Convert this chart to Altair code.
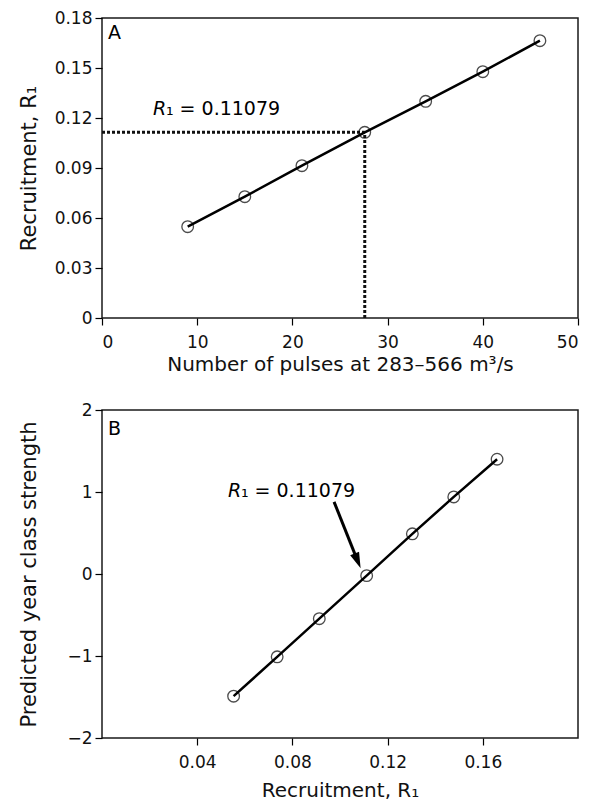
import altair as alt
import pandas as pd

# ---------------- data ----------------
# Panel A: recruitment vs number of pulses
pulses = [9, 15, 21, 27.6, 34, 40, 46]
recruit_a = [0.0548, 0.0728, 0.0914, 0.1114, 0.1300, 0.1478, 0.1664]
r1_pulses = 27.6
r1_value = 0.1114

# Panel B: predicted year class strength vs recruitment
recruit_b = [0.0553, 0.0736, 0.0913, 0.1112, 0.1304, 0.1478, 0.1660]
strength_b = [-1.49, -1.01, -0.545, -0.02, 0.49, 0.94, 1.40]

a_ticks_x = [0, 10, 20, 30, 40, 50]
a_ticks_y = [0, 0.03, 0.06, 0.09, 0.12, 0.15, 0.18]
b_ticks_x = [0.04, 0.08, 0.12, 0.16]
b_ticks_y = [-2, -1, 0, 1, 2]

label_value = "0.11079"
# annotation anchors (data units)
a_label_pos = [5.35, 0.1218]
b_label_pos = [0.0529, 0.939]
b_arrow_start = [0.0975, 0.88]
b_arrow_head = [0.1074, 0.16]

FONT = "DejaVu Sans"

A_XT = "Number of pulses at 283–566 m³/s"
A_YT = "Recruitment, R₁"
B_XT = "Recruitment, R₁"
B_YT = "Predicted year class strength"

# ---------------- shared encodings ----------------
ax_a_x = alt.Axis(values=a_ticks_x, format="d", title=A_XT, titlePadding=4)
ax_a_y = alt.Axis(values=a_ticks_y,
                  labelExpr="datum.value == 0 ? '0' : format(datum.value, '.2f')",
                  title=A_YT, titleFontSize=21, titlePadding=16,
                  minExtent=47, maxExtent=47)
sc_a_x = alt.Scale(domain=[0, 50], nice=False, zero=False)
sc_a_y = alt.Scale(domain=[0, 0.18], nice=False, zero=False)

ax_b_x = alt.Axis(values=b_ticks_x, format=".2f", title=B_XT, titlePadding=10)
ax_b_y = alt.Axis(values=b_ticks_y, format="d",
                  title=B_YT, titleFontSize=21, titlePadding=16,
                  minExtent=47, maxExtent=47)
sc_b_x = alt.Scale(domain=[0, 0.2], nice=False, zero=False)
sc_b_y = alt.Scale(domain=[-2, 2], nice=False, zero=False)


def AX(f):
    return alt.X(f, type="quantitative", scale=sc_a_x, axis=ax_a_x, title=A_XT)


def AY(f):
    return alt.Y(f, type="quantitative", scale=sc_a_y, axis=ax_a_y, title=A_YT)


def BX(f):
    return alt.X(f, type="quantitative", scale=sc_b_x, axis=ax_b_x, title=B_XT)


def BY(f):
    return alt.Y(f, type="quantitative", scale=sc_b_y, axis=ax_b_y, title=B_YT)


# ---------------- panel A ----------------
dfa = pd.DataFrame({"px": pulses, "ry": recruit_a})
a_line = alt.Chart(dfa).mark_line(color="black", strokeWidth=2.5).encode(x=AX("px"), y=AY("ry"))
a_pts = alt.Chart(dfa).mark_point(shape="circle", size=135, color="black", filled=False,
                                  strokeWidth=1.3).encode(x=AX("px"), y=AY("ry"))

dh = pd.DataFrame({"px": [0], "px2": [r1_pulses], "ry": [r1_value]})
a_hdash = alt.Chart(dh).mark_rule(color="#111", strokeWidth=3, strokeDash=[3, 2]).encode(
    x=AX("px"), x2=alt.X2("px2", title=A_XT), y=AY("ry"))
dv = pd.DataFrame({"px": [r1_pulses], "ry": [0], "ry2": [r1_value]})
a_vdash = alt.Chart(dv).mark_rule(color="#111", strokeWidth=3, strokeDash=[3, 2]).encode(
    x=AX("px"), y=AY("ry"), y2=alt.Y2("ry2", title=A_YT))

dta = pd.DataFrame({"px": [a_label_pos[0]], "ry": [a_label_pos[1]],
                    "r": ["R"], "rest": ["₁ = " + label_value]})
a_t1 = alt.Chart(dta).mark_text(font=FONT, fontSize=19, fontStyle="italic", align="left",
                                baseline="alphabetic", color="black").encode(
    x=AX("px"), y=AY("ry"), text="r:N")
a_t2 = alt.Chart(dta).mark_text(font=FONT, fontSize=19, align="left", dx=13,
                                baseline="alphabetic", color="black").encode(
    x=AX("px"), y=AY("ry"), text="rest:N")
a_lab = alt.Chart(pd.DataFrame({"t": ["A"]})).mark_text(
    font=FONT, fontSize=19, align="left", baseline="alphabetic", color="black").encode(
    x=alt.value(6), y=alt.value(21), text="t:N")

panel_a = alt.layer(a_hdash, a_vdash, a_line, a_pts, a_t1, a_t2, a_lab).properties(width=476, height=300)

# ---------------- panel B ----------------
dfb = pd.DataFrame({"bx": recruit_b, "by": strength_b})
b_line = alt.Chart(dfb).mark_line(color="black", strokeWidth=2.5).encode(x=BX("bx"), y=BY("by"))
b_pts = alt.Chart(dfb).mark_point(shape="circle", size=135, color="black", filled=False,
                                  strokeWidth=1.3).encode(x=BX("bx"), y=BY("by"))

dar = pd.DataFrame({"bx": [b_arrow_start[0]], "by": [b_arrow_start[1]],
                    "bx2": [b_arrow_head[0]], "by2": [b_arrow_head[1]]})
b_shaft = alt.Chart(dar).mark_rule(color="black", strokeWidth=3).encode(
    x=BX("bx"), y=BY("by"), x2=alt.X2("bx2", title=B_XT), y2=alt.Y2("by2", title=B_YT))
dhead = pd.DataFrame({"bx": [b_arrow_head[0]], "by": [b_arrow_head[1]]})
b_head = alt.Chart(dhead).mark_point(shape="M-0.6,-1L0.6,-1L0,1Z", size=256, filled=True,
                                     color="black", opacity=1, angle=338).encode(
    x=BX("bx"), y=BY("by"))

dtb = pd.DataFrame({"bx": [b_label_pos[0]], "by": [b_label_pos[1]],
                    "r": ["R"], "rest": ["₁ = " + label_value]})
b_t1 = alt.Chart(dtb).mark_text(font=FONT, fontSize=19, fontStyle="italic", align="left",
                                baseline="alphabetic", color="black").encode(
    x=BX("bx"), y=BY("by"), text="r:N")
b_t2 = alt.Chart(dtb).mark_text(font=FONT, fontSize=19, align="left", dx=13,
                                baseline="alphabetic", color="black").encode(
    x=BX("bx"), y=BY("by"), text="rest:N")
b_lab = alt.Chart(pd.DataFrame({"t": ["B"]})).mark_text(
    font=FONT, fontSize=19, align="left", baseline="alphabetic", color="black").encode(
    x=alt.value(6), y=alt.value(25), text="t:N")

panel_b = alt.layer(b_line, b_pts, b_shaft, b_head, b_t1, b_t2, b_lab).properties(width=476, height=328)

chart = alt.vconcat(panel_a, panel_b, spacing=25).properties(
    padding={"left": 9, "top": 0, "right": 0, "bottom": 0}
).configure_view(
    stroke="#1a1a1a", strokeWidth=1.5
).configure_axis(
    grid=False, domain=False, ticks=True, tickSize=7, tickWidth=1.2, tickColor="black",
    labelFont=FONT, labelFontSize=17, labelColor="#111", labelPadding=3,
    titleFont=FONT, titleFontSize=20, titleFontWeight="normal", titleColor="#111"
).configure_axisX(
    labelPadding=9
)

chart.save("out.html", embed_options={"renderer": "svg", "actions": False})
